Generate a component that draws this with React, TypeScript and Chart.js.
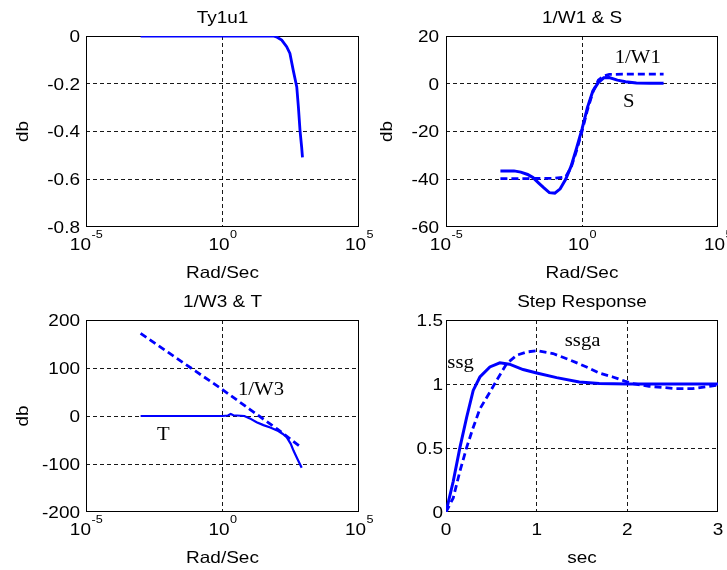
import React, { useEffect, useRef } from 'react';
import { Chart, registerables } from 'chart.js';

Chart.register(...registerables);

const W = 727;
const H = 570;
const SANS = '"Liberation Sans", Arial, sans-serif';
const SERIF = '"Liberation Serif", "Times New Roman", serif';
const SX = 1.15;
const BLUE = '#0000ff';
const GRID = 'rgba(0,0,0,0.9)';

// ---- Ty1u1 ----
const tyFreq = [0.001, 0.01, 0.1, 1, 10, 31.6, 72, 100, 148, 224, 295, 389, 525, 603, 692, 794, 850];
const tyDb = [0, 0, 0, 0, 0, 0, 0, -0.005, -0.017, -0.045, -0.073, -0.143, -0.213, -0.298, -0.396, -0.466, -0.508];
const tyYTicks = [0, -0.2, -0.4, -0.6, -0.8];

// ---- 1/W1 & S ----
const sFreq = [0.001, 0.00316, 0.00562, 0.01, 0.0158, 0.0251, 0.0398, 0.0631, 0.1, 0.158, 0.251, 0.398, 0.631, 1, 1.58, 2.51, 3.98, 6.31, 10, 20, 39.8, 100, 316, 1000];
const sDb = [-36.5, -36.5, -37, -38, -39.3, -41.5, -43.6, -45.6, -45.8, -44, -40, -34.5, -27, -19, -10, -3, 0.5, 2.5, 2.6, 1.5, 0.8, 0.3, 0.2, 0.2];
const w1Freq = [0.001, 0.01, 0.1, 0.251, 0.398, 0.631, 1, 1.58, 2.51, 3.98, 6.31, 10, 31.6, 100, 1000];
const w1Db = [-39.7, -39.7, -39.6, -39, -35, -28, -20, -11, -3.5, 1.5, 3.3, 3.9, 4, 4, 4];
const sYTicks = [20, 0, -20, -40, -60];

// ---- 1/W3 & T ----
const w3Freq = [0.001, 0.01, 0.1, 1, 10, 100, 794];
const w3Db = [172, 133, 94, 55, 14, -27, -66];
const tFreq = [0.001, 0.1, 1, 1.58, 2, 2.51, 6.31, 10, 17.8, 31.6, 56.2, 100, 158, 224, 316, 398, 562, 794];
const tDb = [0, 0, 0, 1, 4, 1.5, 0, -5, -13, -19, -24, -30, -37, -44, -58, -72, -90, -108];
const tYTicks = [200, 100, 0, -100, -200];

// ---- Step Response ----
const ssgT = [0, 0.08, 0.154, 0.228, 0.3, 0.374, 0.484, 0.594, 0.7, 0.85, 1.0, 1.22, 1.47, 1.69, 2.0, 2.5, 3.0];
const ssgV = [0, 0.24, 0.505, 0.74, 0.95, 1.055, 1.133, 1.165, 1.155, 1.113, 1.086, 1.05, 1.016, 1.003, 1.0, 1.0, 1.0];
const ssgaT = [0, 0.08, 0.154, 0.228, 0.3, 0.374, 0.484, 0.56, 0.67, 0.78, 0.89, 1.0, 1.18, 1.36, 1.55, 1.69, 1.84, 1.97, 2.06, 2.24, 2.54, 2.72, 2.9, 3.0];
const ssgaV = [0, 0.11, 0.32, 0.505, 0.66, 0.806, 0.937, 1.03, 1.16, 1.225, 1.25, 1.26, 1.238, 1.19, 1.133, 1.086, 1.055, 1.023, 1.003, 0.982, 0.964, 0.964, 0.982, 0.99];
const stepYTicks = [1.5, 1, 0.5, 0];
const stepXTicks = [0, 1, 2, 3];

// ---- shared log axis ----
const logXTicks = [1e-5, 1, 1e5];
const logXExp = ['-5', '0', '5'];

type Series = { x: number[]; y: number[]; dashed: boolean; width: number };
type Note = { text: string; x: number; y: number };
type Panel = {
  area: { left: number; top: number; right: number; bottom: number };
  title: string;
  xLabel: string;
  yLabel: string;
  yLabelGap: number;
  yTickGap: number;
  xLog: boolean;
  xMin: number;
  xMax: number;
  xTicks: number[];
  yMin: number;
  yMax: number;
  yTicks: number[];
  series: Series[];
  notes: Note[];
};

const panels: Panel[] = [
  {
    area: { left: 86, top: 36, right: 359, bottom: 227 },
    title: 'Ty1u1', xLabel: 'Rad/Sec', yLabel: 'db', yLabelGap: 58, yTickGap: 6,
    xLog: true, xMin: 1e-5, xMax: 1e5, xTicks: logXTicks,
    yMin: -0.8, yMax: 0, yTicks: tyYTicks,
    series: [{ x: tyFreq, y: tyDb, dashed: false, width: 2.8 }],
    notes: [],
  },
  {
    area: { left: 446, top: 36, right: 718, bottom: 227 },
    title: '1/W1 & S', xLabel: 'Rad/Sec', yLabel: 'db', yLabelGap: 54, yTickGap: 7,
    xLog: true, xMin: 1e-5, xMax: 1e5, xTicks: logXTicks,
    yMin: -60, yMax: 20, yTicks: sYTicks,
    series: [
      { x: w1Freq, y: w1Db, dashed: true, width: 2.8 },
      { x: sFreq, y: sDb, dashed: false, width: 3 },
    ],
    notes: [
      { text: '1/W1', x: 16, y: 8.5 },
      { text: 'S', x: 32, y: -9.9 },
    ],
  },
  {
    area: { left: 86, top: 320, right: 359, bottom: 512 },
    title: '1/W3 & T', xLabel: 'Rad/Sec', yLabel: 'db', yLabelGap: 58, yTickGap: 6,
    xLog: true, xMin: 1e-5, xMax: 1e5, xTicks: logXTicks,
    yMin: -200, yMax: 200, yTicks: tYTicks,
    series: [
      { x: w3Freq, y: w3Db, dashed: true, width: 2.8 },
      { x: tFreq, y: tDb, dashed: false, width: 2.2 },
    ],
    notes: [
      { text: 'T', x: 0.004, y: -50 },
      { text: '1/W3', x: 3.7, y: 44 },
    ],
  },
  {
    area: { left: 446, top: 320, right: 718, bottom: 512 },
    title: 'Step Response', xLabel: 'sec', yLabel: '', yLabelGap: 0, yTickGap: 3,
    xLog: false, xMin: 0, xMax: 3, xTicks: stepXTicks,
    yMin: 0, yMax: 1.5, yTicks: stepYTicks,
    series: [
      { x: ssgT, y: ssgV, dashed: false, width: 3 },
      { x: ssgaT, y: ssgaV, dashed: true, width: 2.8 },
    ],
    notes: [
      { text: 'ssg', x: 0.015, y: 1.125 },
      { text: 'ssga', x: 1.31, y: 1.297 },
    ],
  },
];

function txt(ctx: CanvasRenderingContext2D, s: string, x: number, y: number, align: 'left' | 'center' | 'right', font: string) {
  ctx.font = font;
  const w = ctx.measureText(s).width * SX;
  const x0 = align === 'left' ? x : align === 'center' ? x - w / 2 : x - w;
  ctx.save();
  ctx.translate(x0, y);
  ctx.scale(SX, 1);
  ctx.textAlign = 'left';
  ctx.textBaseline = 'alphabetic';
  ctx.fillStyle = '#000';
  ctx.fillText(s, 0, 0);
  ctx.restore();
}

function makeDecor(p: Panel) {
  return {
    id: 'decor',
    beforeDatasetsDraw(chart: any) {
      const { ctx, chartArea: a } = chart;
      ctx.save();
      ctx.strokeStyle = '#000';
      ctx.lineWidth = 1;
      ctx.setLineDash([]);
      ctx.strokeRect(a.left + 0.5, a.top + 0.5, a.right - a.left - 1, a.bottom - a.top - 1);
      ctx.restore();
    },
    afterDraw(chart: any) {
      const { ctx, chartArea: a, scales } = chart;
      const f16 = `16.5px ${SANS}`;
      const f11 = `11px ${SANS}`;
      const fSerif = `18px ${SERIF}`;
      const cx = (a.left + a.right) / 2;
      const cy = (a.top + a.bottom) / 2;
      // title
      txt(ctx, p.title, cx, a.top - 13, 'center', f16);
      // y ticks
      p.yTicks.forEach((v) => {
        const py = scales.y.getPixelForValue(v);
        txt(ctx, String(v), a.left - p.yTickGap, py + 5.9, 'right', f16);
      });
      // x ticks
      p.xTicks.forEach((v, i) => {
        const px = scales.x.getPixelForValue(v);
        if (p.xLog) {
          ctx.font = f16;
          const wb = ctx.measureText('10').width * SX;
          ctx.font = f11;
          const we = ctx.measureText(logXExp[i]).width * SX;
          const x0 = px - (wb + we) / 2;
          txt(ctx, '10', x0, a.bottom + 23, 'left', f16);
          txt(ctx, logXExp[i], x0 + wb + 0.5, a.bottom + 11, 'left', f11);
        } else {
          txt(ctx, String(v), px, a.bottom + 23, 'center', f16);
        }
      });
      // x label
      txt(ctx, p.xLabel, cx, a.bottom + 51, 'center', f16);
      // y label
      if (p.yLabel) {
        ctx.save();
        ctx.translate(a.left - p.yLabelGap, cy);
        ctx.rotate(-Math.PI / 2);
        txt(ctx, p.yLabel, 0, 0, 'center', f16);
        ctx.restore();
      }
      // notes
      p.notes.forEach((n) => {
        const px = scales.x.getPixelForValue(n.x);
        const py = scales.y.getPixelForValue(n.y);
        txt(ctx, n.text, px, py, 'left', fSerif);
      });
    },
  };
}

function gridColor(c: any) {
  const s = c.scale;
  if (c.tick && (c.tick.value <= s.min || c.tick.value >= s.max)) return 'rgba(0,0,0,0)';
  return GRID;
}

function makeConfig(p: Panel): any {
  const datasets = p.series.map((s) => ({
    data: s.x.map((xv, i) => ({ x: xv, y: s.y[i] })),
    borderColor: BLUE,
    backgroundColor: BLUE,
    borderWidth: s.width,
    borderDash: s.dashed ? [7, 4] : [],
    pointRadius: 0,
    tension: 0,
    fill: false,
  }));
  return {
    type: 'line',
    data: { datasets },
    plugins: [makeDecor(p)],
    options: {
      responsive: false,
      animation: false,
      devicePixelRatio: 1,
      events: [],
      layout: {
        padding: { left: p.area.left, top: p.area.top, right: W - p.area.right, bottom: H - p.area.bottom },
      },
      plugins: { legend: { display: false }, tooltip: { enabled: false }, title: { display: false } },
      scales: {
        x: {
          type: p.xLog ? 'logarithmic' : 'linear',
          min: p.xMin,
          max: p.xMax,
          afterBuildTicks: (s: any) => { s.ticks = p.xTicks.map((v) => ({ value: v })); },
          afterFit: (s: any) => { s.height = 0; },
          ticks: { display: false },
          grid: { color: gridColor, lineWidth: 1, drawTicks: false },
          border: { display: false, dash: [4, 3] },
          title: { display: false },
        },
        y: {
          type: 'linear',
          min: p.yMin,
          max: p.yMax,
          afterBuildTicks: (s: any) => { s.ticks = p.yTicks.map((v) => ({ value: v })); },
          afterFit: (s: any) => { s.width = 0; },
          ticks: { display: false },
          grid: { color: gridColor, lineWidth: 1, drawTicks: false },
          border: { display: false, dash: [4, 3] },
          title: { display: false },
        },
      },
    },
  };
}

function PanelCanvas({ p }: { p: Panel }) {
  const ref = useRef<HTMLCanvasElement | null>(null);
  useEffect(() => {
    if (!ref.current) return;
    const chart = new Chart(ref.current, makeConfig(p));
    return () => chart.destroy();
  }, [p]);
  return (
    <canvas
      ref={ref}
      width={W}
      height={H}
      style={{ position: 'absolute', left: 0, top: 0, width: W, height: H }}
    />
  );
}

export default function App() {
  return (
    <div style={{ position: 'fixed', left: 0, top: 0, width: W, height: H, background: '#fff', overflow: 'hidden' }}>
      {panels.map((p, i) => (
        <PanelCanvas key={i} p={p} />
      ))}
    </div>
  );
}
